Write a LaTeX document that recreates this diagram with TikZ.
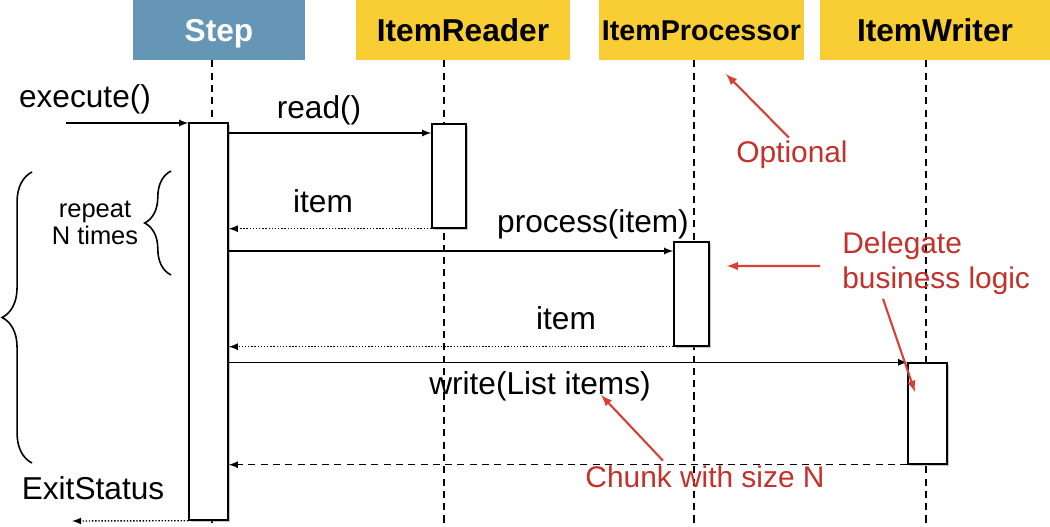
\documentclass[tikz,border=0pt]{standalone}
\usepackage{fontspec}
\setmainfont{Liberation Sans}
\usepackage{tikz}
\usetikzlibrary{arrows,shapes,positioning,shadows,decorations.pathreplacing}
\definecolor{stepblue}{RGB}{101,150,181}
\definecolor{headyellow}{RGB}{248,206,52}
\definecolor{notered}{RGB}{196,48,42}
\definecolor{notearrow}{RGB}{216,64,54}
\tikzset{
    raw header/.style={rectangle, minimum height=1.2cm, inner sep=0pt, text height=12.9pt, text depth=0pt, font=\fontsize{18}{20}\selectfont\bfseries},
    step header/.style={raw header, fill=stepblue, text=white},
    item header/.style={raw header, fill=headyellow, text=black},
    act box/.style={rectangle, draw, line width=0.8pt, fill=white, inner sep=0pt, drop shadow={shadow xshift=0.9pt, shadow yshift=-0.9pt, fill=black!45}},
    lifeline/.style={line width=0.7pt, dash pattern=on 4pt off 3pt},
    call/.style={->, line width=0.8pt},
    reply/.style={->, line width=0.8pt, densely dotted},
    reply dashed/.style={->, line width=0.8pt, dash pattern=on 4pt off 3pt},
    msg/.style={font=\fontsize{18}{21}\selectfont, inner sep=0pt},
    note/.style={font=\fontsize{17}{20}\selectfont, text=notered, inner sep=0pt, align=left},
    note arrow/.style={->, notearrow, line width=1.2pt},
    brace/.style={decorate, line width=0.9pt}
}

\begin{document}
\begin{tikzpicture}[>=latex]
	\useasboundingbox (0,0) rectangle (21,-10.54);
	\node[step header, minimum width=3.44cm] (step) at (4.38,-0.6) {Step};
	\node[item header, minimum width=4.28cm] (reader) at (9.26,-0.6) {ItemReader};
	\node[item header, minimum width=4.10cm, text height=11.7pt, font=\fontsize{16.3}{18}\selectfont\bfseries] (proc) at (14.03,-0.6) {ItemProcessor};
	\node[item header, minimum width=4.60cm] (writer) at (18.70,-0.6) {ItemWriter};
	\foreach \name/\x in {step/4.24, reader/8.88, proc/13.88, writer/18.52}
		\draw[lifeline] (\name.south -| \x,0) -- (\x,-10.54);

	\node[act box, minimum width=0.78cm, minimum height=7.94cm] (stepA) at (4.17,-6.43) {};
	\node[act box, minimum width=0.68cm, minimum height=2.08cm] (readA) at (8.98,-3.52) {};
	\node[act box, minimum width=0.70cm, minimum height=2.08cm] (procA) at (13.83,-5.88) {};
	\node[act box, minimum width=0.78cm, minimum height=2.02cm] (writeA) at (18.55,-8.27) {};

	\coordinate (caller) at (1.32,-2.46);
	\coordinate (exitEnd) at (1.44,-10.42);
	\draw[call] (caller) -- (caller -| stepA.west);
	\draw[call] (stepA.east |- 0,-2.66) -- (readA.west |- 0,-2.66);
	\draw[reply] (readA.south west) -- (readA.south west -| stepA.east);
	\draw[call] (stepA.east |- 0,-5.02) -- (procA.west |- 0,-5.02);
	\draw[reply] (procA.south west) -- (procA.south west -| stepA.east);
	\draw[call] (stepA.east |- writeA.north) -- (writeA.north west);
	\draw[reply dashed] (writeA.south west) -- (writeA.south west -| stepA.east);
	\draw[reply] (stepA.south west) -- (exitEnd);

	\node[msg] (exec) at (1.70,-1.99) {execute()};
	\node[msg] (readL) at (6.38,-2.20) {read()};
	\node[msg] (item1) at (6.46,-4.02) {item};
	\node[msg] (procL) at (11.86,-4.48) {process(item)};
	\node[msg] (item2) at (11.32,-6.36) {item};
	\node[msg] (writeL) at (10.80,-7.72) {write(List items)};
	\node[msg] (exitL) at (1.86,-9.76) {ExitStatus};
	\node[msg, align=center, font=\fontsize{14.5}{15}\selectfont] (rep) at (1.90,-4.46) {repeat\\N times};

	\draw[brace, decoration={brace, amplitude=17pt}] (0.64,-9.26) -- (0.64,-3.44);
	\draw[brace, decoration={brace, amplitude=15pt}] (3.42,-5.50) -- (3.42,-3.42);

	\node[note] (opt) at (15.84,-3.10) {Optional};
	\node[note, anchor=west] (deleg) at (16.84,-5.26) {Delegate\\business logic};
	\node[note] (chunk) at (14.10,-9.54) {Chunk with size N};
	\coordinate (optTip) at (14.52,-1.48);
	\coordinate (delTip) at (18.30,-7.84);
	\coordinate (chunkTip) at (12.02,-7.90);
	\draw[note arrow] ([xshift=-0.06cm, yshift=0.06cm]opt.north) -- (optTip);
	\draw[note arrow] ([xshift=-0.44cm, yshift=-0.06cm]deleg.west) -- ([xshift=0.34cm]procA.east |- 0,-5.32);
	\draw[note arrow] ([xshift=0.82cm, yshift=-0.08cm]deleg.south west) -- (delTip);
	\draw[note arrow] ([xshift=-0.84cm, yshift=0.1cm]chunk.north) -- (chunkTip);
\end{tikzpicture}
\end{document}
